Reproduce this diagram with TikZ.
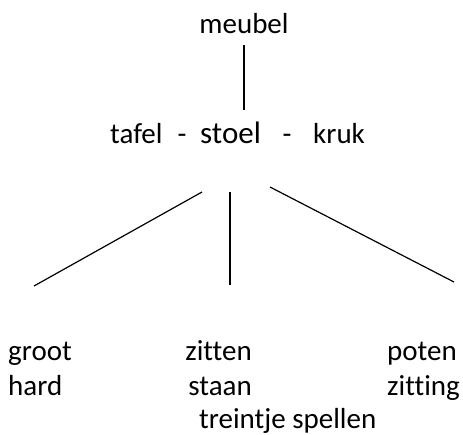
\documentclass[tikz,border=0pt]{standalone}
\usepackage{fontspec}
\setmainfont{Carlito}[Ligatures={NoCommon}]
\begin{document}
\begin{tikzpicture}[x=1pt,y=-1pt,
  word/.style={inner sep=0pt,anchor=base west,font=\fontsize{29}{34}\selectfont},
  big/.style={inner sep=0pt,anchor=base west,font=\fontsize{31}{36}\selectfont},
  link/.style={line width=1.2pt}]
\useasboundingbox (0,0) rectangle (463,434);
\node[word,anchor=base] (meubel) at (244,33.5) {meubel};
\node[word] (tafel) at (110,143.5) {tafel};
\node[word,anchor=base] (d1) at (182,143.5) {-};
\node[big] (stoel) at (200,143.5) {stoel};
\node[word,anchor=base] (d2) at (287,143.5) {-};
\node[word] (kruk) at (313,143.5) {kruk};
\node[word] (groot) at (8,360) {groot};
\node[word] (hard) at (8,395) {hard};
\node[word,anchor=base east] (zitten) at (252,360) {zitten};
\node[word,anchor=base east] (staan) at (252,395) {staan};
\node[word] (poten) at (387,360) {poten};
\node[word] (zitting) at (387,395) {zitting};
\node[word] (treintje) at (199,428) {treintje spellen};
\coordinate (a1) at (244,45);
\coordinate (a2) at (244,110);
\coordinate (l1) at (202,192);
\coordinate (l2) at (34,286);
\coordinate (m1) at (230,192);
\coordinate (m2) at (230,285);
\coordinate (r1) at (270,187);
\coordinate (r2) at (454,282);
\draw[link] (a1) -- (a2);
\draw[link] (l1) -- (l2);
\draw[link] (m1) -- (m2);
\draw[link] (r1) -- (r2);
\end{tikzpicture}
\end{document}
